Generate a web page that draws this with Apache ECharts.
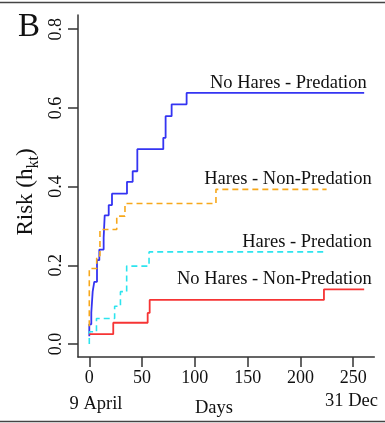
<!DOCTYPE html>
<html>
<head>
<meta charset="utf-8">
<script src="https://cdn.jsdelivr.net/npm/echarts@6/dist/echarts.min.js"></script>
<style>
  html, body { margin: 0; padding: 0; background: #fff; }
  #chart { width: 385px; height: 423px; }
</style>
</head>
<body>
<div id="chart"></div>
<script>
// step curves, [day, risk]
const noHaresPredDays = [0, 0, 1.9, 3.2, 4.7, 7.3, 9.5, 13.6, 14.6, 18.4, 21.5, 35.7, 41.1, 45.5, 70.1, 72.3, 78, 92.2, 260.4]
const noHaresPredRisk = [0.02, 0.05, 0.08, 0.133, 0.158, 0.213, 0.24, 0.27, 0.327, 0.353, 0.382, 0.412, 0.439, 0.495, 0.524, 0.579, 0.609, 0.638, 0.638]

const haresNonPredDays = [0, 0, 7, 10.1, 26, 33.8, 120, 224.8]
const haresNonPredRisk = [0.045, 0.192, 0.224, 0.291, 0.325, 0.357, 0.393, 0.393]

const haresPredDays = [0, 0, 6.8, 24, 29.5, 35.4, 56.6, 224.8]
const haresPredRisk = [0, 0.031, 0.065, 0.096, 0.133, 0.198, 0.234, 0.234]

const noHaresNonPredDays = [0, 22.7, 55.3, 57.2, 222.3, 260.4]
const noHaresNonPredRisk = [0.025, 0.054, 0.079, 0.112, 0.139, 0.139]

const xTicks = [0, 50, 100, 150, 200, 250]
const yTicks = [0, 0.2, 0.4, 0.6, 0.8]

const seriesNames = ['No Hares - Predation', 'Hares - Non-Predation', 'Hares - Predation', 'No Hares - Non-Predation']

function zip(xs, ys) {
  return xs.map((x, i) => [x, ys[i]])
}

const FONT = 'Liberation Serif'
const LABEL_FONT = '18.5px "Liberation Serif"'
const chart = echarts.init(document.getElementById('chart'), null, { renderer: 'canvas' })

chart.setOption({
  animation: false,
  backgroundColor: '#fff',
  grid: { left: 78, right: 10.7, top: 15, bottom: 66 },
  xAxis: {
    type: 'value',
    min: -10.7,
    max: 270,
    splitLine: { show: false },
    axisLine: { show: true, onZero: false, lineStyle: { color: '#333', width: 1.5 } },
    axisTick: { show: true, length: 10, customValues: xTicks, lineStyle: { color: '#333', width: 1.5 } },
    axisLabel: {
      customValues: xTicks, margin: 12, color: '#111',
      fontFamily: FONT, fontSize: 18
    }
  },
  yAxis: {
    type: 'value',
    min: -0.033,
    max: 0.836,
    splitLine: { show: false },
    axisLine: { show: true, onZero: false, lineStyle: { color: '#333', width: 1.5 } },
    axisTick: { show: true, length: 10, customValues: yTicks, lineStyle: { color: '#333', width: 1.5 } },
    axisLabel: {
      customValues: yTicks, margin: 13, rotate: 90, color: '#111',
      fontFamily: FONT, fontSize: 18,
      formatter: v => v.toFixed(1)
    }
  },
  series: [
    {
      name: seriesNames[0], type: 'line', step: 'end', showSymbol: false,
      data: zip(noHaresPredDays, noHaresPredRisk),
      lineStyle: { color: '#3434f2', width: 1.8 }
    },
    {
      name: seriesNames[1], type: 'line', step: 'end', showSymbol: false,
      data: zip(haresNonPredDays, haresNonPredRisk),
      lineStyle: { color: '#f7a81b', width: 1.6, type: [6, 4] }
    },
    {
      name: seriesNames[2], type: 'line', step: 'end', showSymbol: false,
      data: zip(haresPredDays, haresPredRisk),
      lineStyle: { color: '#2de4ee', width: 1.6, type: [6, 4] }
    },
    {
      name: seriesNames[3], type: 'line', step: 'end', showSymbol: false,
      data: zip(noHaresNonPredDays, noHaresNonPredRisk),
      lineStyle: { color: '#f63434', width: 1.8 }
    }
  ],
  graphic: [
    { type: 'line', shape: { x1: 0, y1: 2.5, x2: 385, y2: 2.5 }, style: { stroke: '#444', lineWidth: 1.5 } },
    { type: 'line', shape: { x1: 0, y1: 421.5, x2: 385, y2: 421.5 }, style: { stroke: '#444', lineWidth: 1.5 } },
    { type: 'text', x: 29, y: 27, style: { text: 'B', font: '33px "Liberation Serif"', fill: '#111', textAlign: 'center', textVerticalAlign: 'middle' } },
    {
      type: 'text', x: 28, y: 192, rotation: Math.PI / 2,
      style: {
        text: '{a|Risk (h}{s|kt}{a|)}', textAlign: 'center', textVerticalAlign: 'middle', fill: '#111',
        rich: {
          a: { fontFamily: FONT, fontSize: 23, lineHeight: 27, verticalAlign: 'top', fill: '#111' },
          s: { fontFamily: FONT, fontSize: 16, lineHeight: 16, padding: [11, 0, 0, 0], verticalAlign: 'bottom', fill: '#111' }
        }
      }
    },
    { type: 'text', x: 366.7, y: 83, style: { text: seriesNames[0], font: LABEL_FONT, fill: '#111', textAlign: 'right', textVerticalAlign: 'middle' } },
    { type: 'text', x: 371.7, y: 179, style: { text: seriesNames[1], font: LABEL_FONT, fill: '#111', textAlign: 'right', textVerticalAlign: 'middle' } },
    { type: 'text', x: 371.7, y: 242, style: { text: seriesNames[2], font: LABEL_FONT, fill: '#111', textAlign: 'right', textVerticalAlign: 'middle' } },
    { type: 'text', x: 371.7, y: 279, style: { text: seriesNames[3], font: LABEL_FONT, fill: '#111', textAlign: 'right', textVerticalAlign: 'middle' } },
    { type: 'text', x: 96, y: 404, style: { text: '9 April', font: LABEL_FONT, fill: '#111', textAlign: 'center', textVerticalAlign: 'middle' } },
    { type: 'text', x: 214, y: 408, style: { text: 'Days', font: LABEL_FONT, fill: '#111', textAlign: 'center', textVerticalAlign: 'middle' } },
    { type: 'text', x: 351.5, y: 401, style: { text: '31 Dec', font: LABEL_FONT, fill: '#111', textAlign: 'center', textVerticalAlign: 'middle' } }
  ]
})
</script>
</body>
</html>
